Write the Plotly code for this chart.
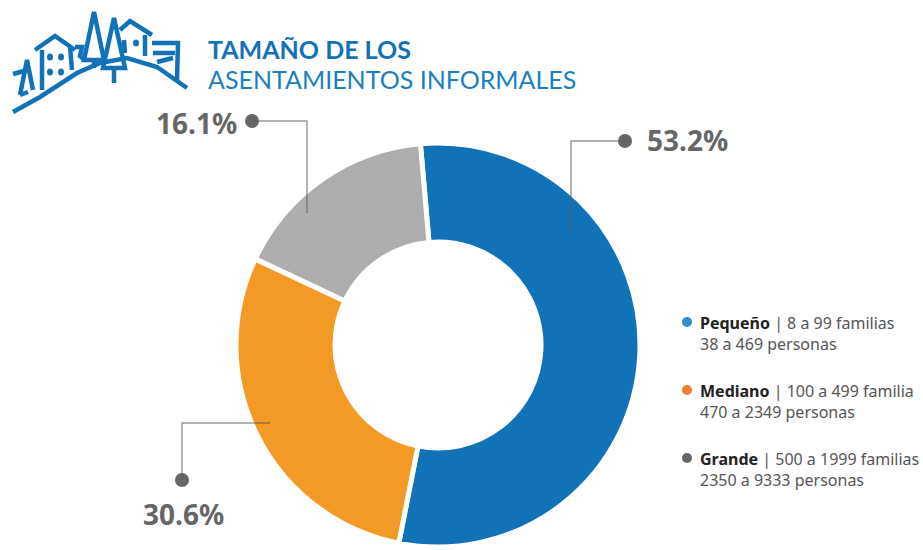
import plotly.graph_objects as go

categories = ["Pequeño", "Mediano", "Grande"]
shares = [53.2, 30.6, 16.1]
# slice sizes, the original's arcs don't quite follow its labels
arc_shares = [54.5, 28.9, 16.6]
slice_colors = ["#1272b8", "#f39a26", "#adadad"]
legend_colors = ["#2f8fd0", "#ee7f33", "#666666"]
legend_first = ["| 8 a 99 familias", "| 100 a 499 familia", "| 500 a 1999 familias"]
legend_second = ["38 a 469 personas", "470 a 2349 personas", "2350 a 9333 personas"]

BLUE = "#1272b8"
GREY = "#666666"
LEADER = "rgba(90,90,90,0.6)"
W, H = 923, 550

fig = go.Figure()

# donut, placed by pixel box
cx, cy, r = 438, 345, 202
fig.add_trace(go.Pie(
    labels=categories,
    values=arc_shares,
    sort=False,
    direction="clockwise",
    rotation=-5,
    hole=0.51,
    marker=dict(colors=slice_colors, line=dict(color="white", width=5)),
    textinfo="none",
    showlegend=False,
    domain=dict(
        x=[(cx - r) / W, (cx + r) / W],
        y=[(H - cy - r) / H, (H - cy + r) / H],
    ),
))

# legend dots
legend_y = [322, 390, 458]
fig.add_trace(go.Scatter(
    x=[687] * 3, y=legend_y, mode="markers",
    marker=dict(size=10, color=legend_colors),
    showlegend=False, hoverinfo="skip",
))

# leader end dots
fig.add_trace(go.Scatter(
    x=[625, 252, 182], y=[141, 121, 480], mode="markers",
    marker=dict(size=14, color=GREY),
    showlegend=False, hoverinfo="skip",
))

shapes = []
for path in [
    "M 625 141 L 571 141 L 571 233",
    "M 252 121 L 307 121 L 307 213",
    "M 182 480 L 182 423 L 270 423",
]:
    shapes.append(dict(type="path", path=path, xref="x", yref="y", layer="above",
                       line=dict(color=LEADER, width=1.5)))

# logo
logo_paths = [
    "M 13 112 L 40 97 L 77 73 L 100 63 L 127 58 L 157 67 L 187 88",
    "M 35 50 L 55 36 L 75 50",
    "M 42 50 L 42 90",
    "M 70 47 L 72 70",
    "M 75 47 L 82 47 L 80 56 L 85 60",
    "M 20 95 L 27 60 L 33 90",
    "M 13 74 L 24 71",
    "M 20 95 L 28 92",
    "M 94 12 L 84 60 L 104 60 Z",
    "M 94 60 L 94 68",
    "M 114 18 L 103 68 L 125 68 Z",
    "M 114 68 L 114 83",
    "M 120 30 L 130 21 L 152 35",
    "M 124 40 L 125 53",
    "M 145 35 L 145 56",
    "M 152 43 L 178 43 L 177 80",
    "M 153 53 L 175 53",
    "M 157 62 L 173 58",
]
for path in logo_paths:
    shapes.append(dict(type="path", path=path, xref="x", yref="y", layer="above",
                       line=dict(color=BLUE, width=4.5)))
for dx, dy in [(50, 57), (61, 57), (50, 72), (61, 72), (136, 43)]:
    shapes.append(dict(type="circle", xref="x", yref="y", layer="above",
                       x0=dx - 3, x1=dx + 3, y0=dy - 3.5, y1=dy + 3.5,
                       fillcolor=BLUE, line=dict(width=0)))

annotations = [
    dict(x=206, y=49, text="<b>TAMAÑO DE LOS</b>", xanchor="left",
         font=dict(family="Lato", size=25, color=BLUE)),
    dict(x=206, y=79, text="ASENTAMIENTOS INFORMALES", xanchor="left",
         font=dict(family="Lato", size=25, color="#1a7fc0")),
]
for txt, x, y in [(shares[0], 645, 140), (shares[2], 154, 123), (shares[1], 141, 514)]:
    annotations.append(dict(x=x, y=y, text=f"<b>{txt}%</b>", xanchor="left",
                            font=dict(family="Noto Sans", size=28, color=GREY)))
for i, name in enumerate(categories):
    annotations.append(dict(
        x=698, y=legend_y[i] + 11, xanchor="left", align="left",
        text=f"<b>{name}</b> <span style='color:#555555'>{legend_first[i]}<br>{legend_second[i]}</span>",
        font=dict(family="Noto Sans", size=16, color="#222222"),
    ))
for a in annotations:
    a.update(xref="x", yref="y", showarrow=False, yanchor="middle")

fig.update_layout(
    width=W, height=H,
    margin=dict(l=0, r=0, t=0, b=0),
    paper_bgcolor="white",
    plot_bgcolor="rgba(0,0,0,0)",
    xaxis=dict(range=[0, W], visible=False, fixedrange=True),
    yaxis=dict(range=[H, 0], visible=False, fixedrange=True),
    shapes=shapes,
    annotations=annotations,
)

# the page's default body margin would push the chart 8px off
fig.write_html("out.html", config=dict(displayModeBar=False),
               post_script="document.body.style.margin='0';")
